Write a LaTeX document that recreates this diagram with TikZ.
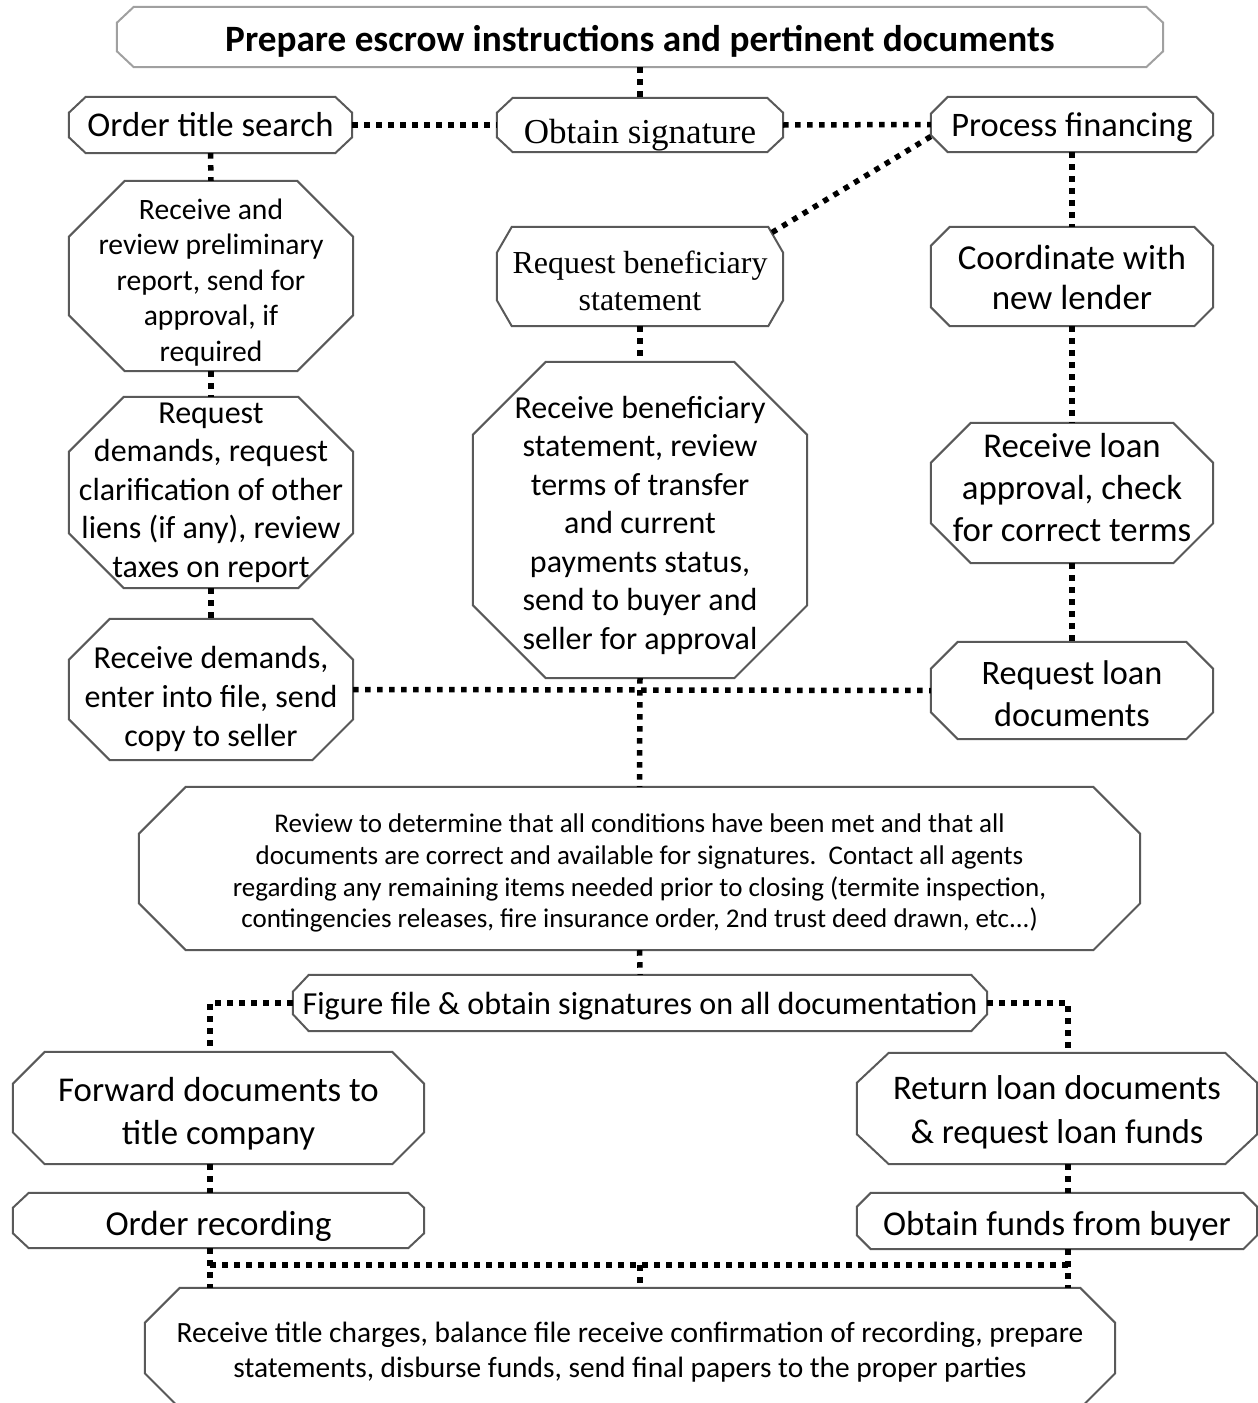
\documentclass[tikz,border=0pt]{standalone}
\usepackage{fontspec}
\setmainfont{Carlito}
\newfontfamily\timesfont{Liberation Serif}
\definecolor{edgegray}{HTML}{595959}
\definecolor{titlegray}{HTML}{A0A0A0}
\pgfdeclarelayer{boxes}
\pgfsetlayers{boxes,main}
\tikzset{
  stage/.style={rectangle, inner sep=0pt, align=center},
  link/.style={line width=5.5pt, dash pattern=on 5.5pt off 6.5pt, black},
}
% octagon drawn round a named node: name, x chamfer, y chamfer, colour
\newcommand{\chamferbox}[4]{%
  \begin{pgfonlayer}{boxes}
  \draw[line width=2pt, #4] ([xshift=#2]#1.north west) -- ([xshift=-#2]#1.north east)
    -- ([yshift=-#3]#1.north east) -- ([yshift=#3]#1.south east)
    -- ([xshift=-#2]#1.south east) -- ([xshift=#2]#1.south west)
    -- ([yshift=#3]#1.south west) -- ([yshift=-#3]#1.north west) -- cycle;
  \end{pgfonlayer}}

\begin{document}
\begin{tikzpicture}[x=1pt,y=-1pt]
  \useasboundingbox (0,0) rectangle (1258,1403);
  \clip (0,0) rectangle (1258,1403);
  % title box
  \node[stage, minimum width=1046pt, minimum height=60pt, text height=35.3pt, font=\fontsize{37.2}{44}\selectfont\bfseries] (prep) at (640,37) {Prepare escrow instructions and pertinent documents};
  \chamferbox{prep}{17pt}{16pt}{titlegray}
  % top row
  \node[stage, minimum width=283pt, minimum height=56pt, text height=23.4pt, font=\fontsize{34.7}{42}\selectfont] (ots) at (210.5,125) {Order title search};
  \chamferbox{ots}{17pt}{16pt}{edgegray}
  \node[stage, minimum width=286pt, minimum height=54pt, text height=43.6pt, font=\fontsize{35}{40}\timesfont] (obs) at (640,125) {Obtain signature};
  \chamferbox{obs}{16pt}{15pt}{edgegray}
  \node[stage, minimum width=282pt, minimum height=55pt, text height=29.6pt, font=\fontsize{34.4}{42}\selectfont] (pfin) at (1072,124.5) {Process financing};
  \chamferbox{pfin}{17pt}{17pt}{edgegray}
  % left column
  \node[stage, minimum width=284pt, minimum height=190pt, text height=175.4pt, font=\fontsize{29.6}{35.5}\selectfont] (rrp) at (211,276) {Receive and\\review preliminary\\report, send for\\approval, if\\required};
  \chamferbox{rrp}{56pt}{56pt}{edgegray}
  \node[stage, minimum width=284pt, minimum height=191pt, font=\fontsize{32}{38.5}\selectfont] (rdm) at (211,492.5) {Request\\demands, request\\clarification of other\\liens (if any), review\\taxes on report};
  \chamferbox{rdm}{55pt}{55pt}{edgegray}
  \node[stage, minimum width=284pt, minimum height=141pt, text height=119pt, font=\fontsize{32}{39}\selectfont] (rcd) at (211,689.5) {Receive demands,\\enter into file, send\\copy to seller};
  \chamferbox{rcd}{41pt}{41pt}{edgegray}
  % middle column
  \node[stage, minimum width=286pt, minimum height=99pt, text height=69pt, font=\fontsize{32}{37}\timesfont] (rbs) at (640,276.5) {Request beneficiary\\statement};
  \chamferbox{rbs}{15pt}{26pt}{edgegray}
  \node[stage, minimum width=334pt, minimum height=316pt, text height=264pt, font=\fontsize{32}{38.5}\selectfont] (rbst) at (640,520) {Receive beneficiary\\statement, review\\terms of transfer\\and current\\payments status,\\send to buyer and\\seller for approval};
  \chamferbox{rbst}{73pt}{73pt}{edgegray}
  % right column
  \node[stage, minimum width=282pt, minimum height=99pt, text height=67pt, font=\fontsize{35}{40}\selectfont] (cnl) at (1072,276.5) {Coordinate with\\new lender};
  \chamferbox{cnl}{19pt}{19pt}{edgegray}
  \node[stage, minimum width=282pt, minimum height=140pt, text height=97pt, font=\fontsize{34.8}{42}\selectfont] (rla) at (1072,493) {Receive loan\\approval, check\\for correct terms};
  \chamferbox{rla}{40pt}{40pt}{edgegray}
  \node[stage, minimum width=282pt, minimum height=97pt, text height=73pt, font=\fontsize{34.3}{42}\selectfont] (rld) at (1072,690.5) {Request loan\\documents};
  \chamferbox{rld}{27pt}{27pt}{edgegray}
  % review box
  \node[stage, minimum width=1001pt, minimum height=163pt, text height=123.4pt, font=\fontsize{27}{31.7}\selectfont] (rev) at (639.5,868.5) {Review to determine that all conditions have been met and that all\\documents are correct and available for signatures.\ \ Contact all agents\\regarding any remaining items needed prior to closing (termite inspection,\\contingencies releases, fire insurance order, 2nd trust deed drawn, etc...)};
  \chamferbox{rev}{47pt}{47pt}{edgegray}
  \node[stage, minimum width=694pt, minimum height=56pt, text height=28pt, font=\fontsize{32.1}{38}\selectfont] (fig) at (640,1003) {Figure file \& obtain signatures on all documentation};
  \chamferbox{fig}{16pt}{17pt}{edgegray}
  % bottom left
  \node[stage, minimum width=411pt, minimum height=112pt, text height=78.7pt, font=\fontsize{34.8}{43}\selectfont] (fwd) at (218.5,1108) {Forward documents to\\title company};
  \chamferbox{fwd}{32pt}{32pt}{edgegray}
  \node[stage, minimum width=411pt, minimum height=55pt, text height=36.3pt, font=\fontsize{35}{41}\selectfont] (ord) at (218.5,1220.5) {Order recording};
  \chamferbox{ord}{16pt}{15pt}{edgegray}
  % bottom right
  \node[stage, minimum width=400pt, minimum height=111pt, text height=74.6pt, font=\fontsize{34.5}{43.4}\selectfont] (ret) at (1057,1108.5) {Return loan documents\\\& request loan funds};
  \chamferbox{ret}{32pt}{30pt}{edgegray}
  \node[stage, minimum width=400pt, minimum height=56pt, text height=34.7pt, font=\fontsize{34.8}{41}\selectfont] (obf) at (1057,1221) {Obtain funds from buyer};
  \chamferbox{obf}{14pt}{14pt}{edgegray}
  % last box, cut by the page
  \node[stage, minimum width=970pt, minimum height=120pt, text height=63.4pt, font=\fontsize{29.4}{35}\selectfont] (fin) at (630,1348) {Receive title charges, balance file receive confirmation of recording, prepare\\statements, disburse funds, send final papers to the proper parties};
  \chamferbox{fin}{35pt}{35pt}{edgegray}
  % branch points
  \coordinate (jl) at (210,1265);
  \coordinate (jm) at (640,1265);
  \coordinate (jr) at (1068,1265);
  % links top
  \draw[link] (prep.south) -- (obs.north);
  \draw[link] (ots.east) -- (obs.west);
  \draw[link] (obs.east) -- (pfin.west);
  \draw[link] ([yshift=-12pt]pfin.west) -- ([xshift=-15pt,yshift=-8pt]rbs.north east);
  % links left
  \draw[link] (ots.south) -- (rrp.north);
  \draw[link] (rrp.south) -- (rdm.north);
  \draw[link] (rdm.south) -- (rcd.north);
  \draw[link] (rcd.east) -- (rld.west);
  % links middle
  \draw[link] (rbs.south) -- (rbst.north);
  \draw[link] (rbst.south) -- (rev.north);
  \draw[link] (rev.south) -- (fig.north);
  % links right
  \draw[link] (pfin.south) -- (cnl.north);
  \draw[link] (cnl.south) -- (rla.north);
  \draw[link] (rla.south) -- (rld.north);
  % links bottom
  \draw[link] (fig.west) -| ([xshift=-8.5pt]fwd.north);
  \draw[link] (fig.east) -| ([xshift=11pt]ret.north);
  \draw[link] ([xshift=-8.5pt]fwd.south) -- ([xshift=-8.5pt]ord.north);
  \draw[link] ([xshift=11pt]ret.south) -- ([xshift=11pt]obf.north);
  \draw[link] ([xshift=-8.5pt]ord.south) -- (jl |- fin.north);
  \draw[link] ([xshift=11pt]obf.south) -- (jr |- fin.north);
  \draw[link] (jl) -- (jr);
  \draw[link] (jm) -- (jm |- fin.north);
\end{tikzpicture}
\end{document}
